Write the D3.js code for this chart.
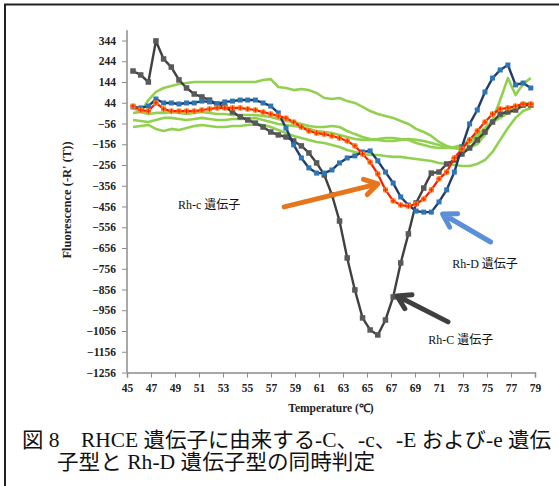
<!DOCTYPE html>
<html><head><meta charset="utf-8">
<script src="https://cdn.jsdelivr.net/npm/d3@7"></script>
<style>
html,body{margin:0;padding:0;background:#fff;}
svg{display:block;}
</style>
</head><body>
<svg id="chart" width="559" height="486"></svg>
<script>
// ---- data ----
const temps = [45.50,46.14,46.78,47.41,48.05,48.69,49.33,49.96,50.60,51.24,51.88,52.51,53.15,53.79,54.43,55.06,55.70,56.34,56.98,57.61,58.25,58.89,59.53,60.16,60.80,61.44,62.08,62.71,63.35,63.99,64.63,65.26,65.90,66.54,67.18,67.81,68.45,69.09,69.73,70.36,71.00,71.64,72.28,72.91,73.55,74.19,74.83,75.46,76.10,76.74,77.38,78.01,78.65];
const rhC = [197,178,144,342,255,216,154,115,86,72,57,38,24,0,-24,-39,-54,-73,-97,-111,-121,-140,-164,-198,-246,-304,-400,-526,-704,-858,-993,-1051,-1075,-1003,-892,-728,-588,-439,-367,-295,-290,-251,-232,-203,-174,-135,-97,-49,-10,0,9,33,33];
const rhD = [24,19,28,62,43,43,38,43,43,52,48,38,48,52,57,57,57,43,28,-5,-78,-159,-222,-270,-295,-295,-280,-246,-222,-212,-193,-188,-236,-290,-343,-410,-449,-478,-483,-483,-434,-376,-290,-169,-58,9,96,163,202,226,130,139,115];
const rhc = [28,9,4,43,14,4,4,4,4,9,14,19,19,19,19,14,9,-1,-10,-20,-30,-49,-73,-92,-102,-107,-116,-126,-140,-164,-203,-242,-299,-376,-429,-449,-454,-444,-420,-376,-323,-290,-222,-179,-135,-92,-49,-10,14,19,28,38,38];
const green1 = [-5,0,57,96,115,125,134,139,144,144,144,144,144,144,144,144,144,154,158,120,115,105,110,105,91,67,62,67,52,43,24,4,-10,-20,-29,-44,-58,-82,-97,-116,-145,-164,-174,-184,-174,-155,-111,-39,57,163,81,134,163];
const green2 = [19,0,-10,-5,-5,0,-5,-10,-5,0,-5,-10,-10,-15,-15,-15,-15,-20,-25,-34,-44,-49,-58,-68,-73,-73,-68,-73,-92,-107,-121,-131,-135,-140,-140,-135,-131,-135,-140,-150,-160,-169,-174,-169,-150,-126,-87,-49,-29,-5,9,28,38];
const green3 = [-39,-44,-49,-39,-29,-29,-34,-39,-34,-29,-34,-39,-39,-34,-34,-34,-29,-39,-49,-58,-63,-68,-73,-82,-92,-97,-102,-111,-121,-131,-135,-135,-131,-126,-126,-131,-135,-150,-160,-169,-174,-174,-169,-160,-135,-111,-78,-44,-15,9,28,38,43];
const green4 = [-73,-68,-63,-82,-92,-82,-87,-78,-68,-63,-68,-73,-73,-68,-68,-63,-58,-63,-73,-87,-102,-116,-126,-135,-145,-150,-160,-169,-184,-193,-203,-208,-208,-213,-217,-217,-222,-227,-232,-237,-246,-251,-256,-261,-261,-251,-232,-193,-135,-78,-29,4,19];
const yTicks = [344,244,144,44,-56,-156,-256,-356,-456,-556,-656,-756,-856,-956,-1056,-1156,-1256];
const xTicks = [45,47,49,51,53,55,57,59,61,63,65,67,69,71,73,75,77,79];
const yTitle = "Fluorescence (-R' (T))";
const xTitle = "Temperature (\u2103)";
const captionLines = ["図 8\u3000RHCE 遺伝子に由来する-C、-c、-E および-e 遺伝", "子型と Rh-D 遺伝子型の同時判定"];
const labels = [
  {text:"Rh-c 遺伝子", t:49.25, v:-470},
  {text:"Rh-D 遺伝子", t:72.1, v:-750},
  {text:"Rh-C 遺伝子", t:70.1, v:-1118}
];
const arrows = [
  {from:[58.1,-458], to:[65.9,-347], color:"#E5761E"},
  {from:[75.3,-627], to:[71.3,-492], color:"#5B8FD8"},
  {from:[71.75,-1012], to:[67.5,-887], color:"#3F3F3F"}
];

// ---- drawing ----
const svg = d3.select("#chart");
const x = d3.scaleLinear().domain([45,79]).range([127,535]);
const y = d3.scaleLinear().domain([-1256,344]).range([372.5,40.5]);
const serif = "'Liberation Serif','Times New Roman',serif";

// border
svg.append("path").attr("d","M5,486 L5,4.5 L559,4.5").attr("fill","none").attr("stroke","#222").attr("stroke-width",2);

// axes
const yAxis = svg.append("g").attr("transform","translate(127,0)")
  .call(d3.axisLeft(y).tickValues(yTicks).tickSize(5).tickPadding(6).tickFormat(d3.format("d")));
yAxis.select(".domain").remove();
yAxis.append("line").attr("x1",0).attr("x2",0).attr("y1",y(394)).attr("y2",y(-1256)).attr("stroke","#8c8c8c").attr("stroke-width",1.5);
const xAxis = svg.append("g").attr("transform","translate(0,372.5)")
  .call(d3.axisBottom(x).tickValues(xTicks).tickSize(5).tickPadding(6).tickFormat(d3.format("d")));
xAxis.select(".domain").attr("stroke","#8c8c8c").attr("stroke-width",1.5);
[yAxis,xAxis].forEach(g=>{
  g.selectAll(".tick line").attr("stroke","#8c8c8c");
  g.selectAll("text").attr("font-family",serif).attr("font-weight","bold").attr("font-size",11.5).attr("fill","#222");
});

// titles
svg.append("text").attr("transform","translate(71,200) rotate(-90)").attr("text-anchor","middle")
  .attr("font-family",serif).attr("font-weight","bold").attr("font-size",12.5).attr("fill","#222").text(yTitle);
svg.append("text").attr("x",331).attr("y",412).attr("text-anchor","middle")
  .attr("font-family",serif).attr("font-weight","bold").attr("font-size",11.5).attr("fill","#222").text(xTitle);

// series
const line = d3.line().x((d,i)=>x(temps[i])).y(d=>y(d));
[green4,green3,green2,green1].forEach(s=>{
  svg.append("path").datum(s).attr("d",line).attr("fill","none").attr("stroke","#92D050").attr("stroke-width",2.6).attr("stroke-linejoin","round");
});
function series(data, lineColor, markColor, lw, ms){
  svg.append("path").datum(data).attr("d",line).attr("fill","none").attr("stroke",lineColor).attr("stroke-width",lw).attr("stroke-linejoin","round");
  svg.append("g").selectAll("rect").data(data).join("rect")
    .attr("x",(d,i)=>x(temps[i])-ms/2).attr("y",d=>y(d)-ms/2).attr("width",ms).attr("height",ms).attr("fill",markColor);
}
series(rhC,"#404040","#595959",2.4,5.5);
series(rhD,"#1F3D6B","#2E75B6",2.4,5);
series(rhc,"#FF1A00","#FF8C1A",2.2,5);
// red cross inside orange markers
svg.append("g").selectAll("path").data(rhc).join("path")
  .attr("d",(d,i)=>{const cx=x(temps[i]),cy=y(d);return `M${cx-2.5},${cy}H${cx+2.5}M${cx},${cy-2.5}V${cy+2.5}`;})
  .attr("stroke","#FF1A00").attr("stroke-width",1);

// arrows
arrows.forEach(a=>{
  const x1=x(a.from[0]),y1=y(a.from[1]),x2=x(a.to[0]),y2=y(a.to[1]);
  const ang=Math.atan2(y2-y1,x2-x1), L=15, spread=0.55;
  const p1=[x2-L*Math.cos(ang-spread), y2-L*Math.sin(ang-spread)];
  const p2=[x2-L*Math.cos(ang+spread), y2-L*Math.sin(ang+spread)];
  svg.append("path").attr("d",`M${x1},${y1}L${x2-2*Math.cos(ang)},${y2-2*Math.sin(ang)}M${p1[0]},${p1[1]}L${x2},${y2}L${p2[0]},${p2[1]}`)
    .attr("fill","none").attr("stroke",a.color).attr("stroke-width",5).attr("stroke-linecap","round").attr("stroke-linejoin","round");
});

// labels
labels.forEach(l=>{
  svg.append("text").attr("x",x(l.t)).attr("y",y(l.v)).attr("font-family",serif+",'Noto Sans CJK JP'")
    .attr("font-size",12).attr("fill","#111").text(l.text);
});

// caption
svg.append("text").attr("x",22).attr("y",447).attr("font-family","'Liberation Serif','Noto Sans CJK JP',serif")
  .attr("font-size",21).attr("textLength",529).attr("lengthAdjust","spacingAndGlyphs").attr("fill","#111").text(captionLines[0]);
svg.append("text").attr("x",57).attr("y",469).attr("font-family","'Liberation Serif','Noto Sans CJK JP',serif")
  .attr("font-size",21).attr("textLength",318).attr("lengthAdjust","spacingAndGlyphs").attr("fill","#111").text(captionLines[1]);
</script>
</body></html>
